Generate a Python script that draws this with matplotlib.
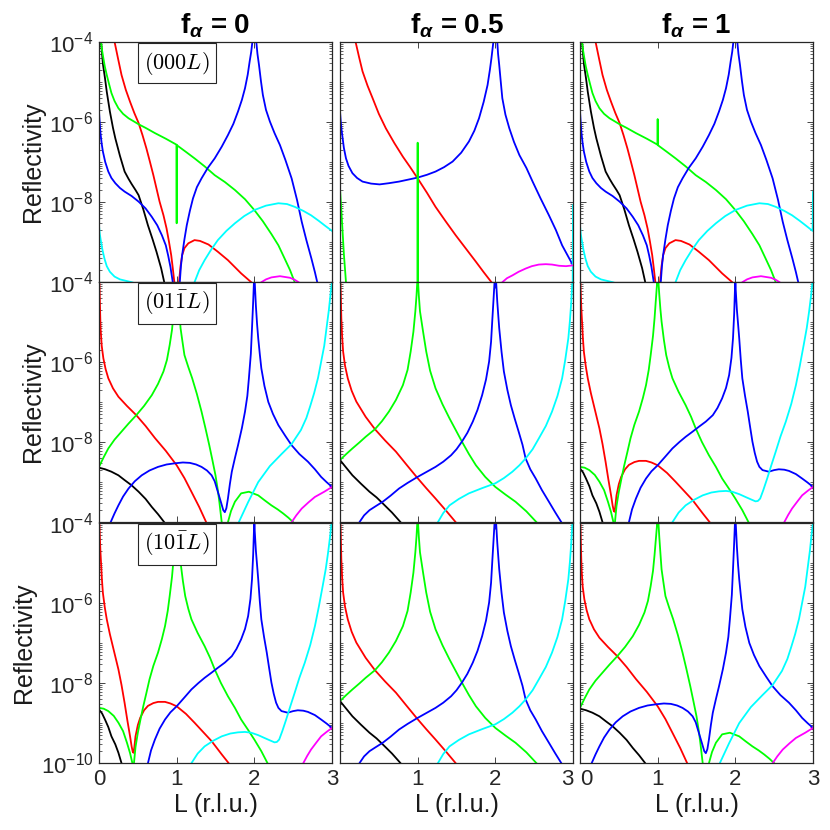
import numpy as np
import matplotlib
matplotlib.use('Agg')
import matplotlib.pyplot as plt
from matplotlib.ticker import FixedLocator, LogLocator, NullFormatter, FuncFormatter

plt.rcParams['font.family'] = ['Liberation Sans', 'DejaVu Sans']
plt.rcParams['mathtext.fontset'] = 'custom'
plt.rcParams['mathtext.rm'] = 'Liberation Sans'
plt.rcParams['mathtext.it'] = 'Liberation Sans:italic'
plt.rcParams['mathtext.bf'] = 'Liberation Sans:bold:italic'

# ── data: (L, log10 R) ──
# panel A : (000L), f_alpha = 0
A_black = [(0.015, -3.5), (0.026, -4.0), (0.05, -4.55), (0.077, -4.91), (0.1, -5.25), (0.14, -5.74),
           (0.18, -6.15), (0.21, -6.41), (0.27, -6.85), (0.33, -7.24), (0.38, -7.42), (0.42, -7.55),
           (0.47, -7.7), (0.51, -7.83), (0.57, -8.18), (0.63, -8.58), (0.69, -8.93), (0.74, -9.24),
           (0.8, -9.65), (0.84, -10.0), (0.87, -10.3)]
A_red1 = [(0.18, -3.8), (0.2, -4.0), (0.245, -4.42), (0.29, -4.83), (0.345, -5.2), (0.4, -5.5),
          (0.455, -5.78), (0.51, -6.03), (0.56, -6.33), (0.61, -6.66), (0.655, -6.99), (0.70, -7.33),
          (0.74, -7.66), (0.78, -7.99), (0.83, -8.33), (0.87, -8.66), (0.9, -8.98), (0.93, -9.33),
          (0.95, -9.65), (0.97, -10.0), (0.985, -10.5)]
A_red2 = [(1.015, -10.5), (1.03, -10.0), (1.05, -9.6), (1.07, -9.33), (1.1, -9.15), (1.15, -9.03),
          (1.23, -8.95), (1.3, -8.97), (1.41, -9.06), (1.53, -9.24), (1.66, -9.45), (1.83, -9.78),
          (1.96, -10.0), (1.99, -10.1)]
A_green = [(0.018, -3.8), (0.026, -4.0), (0.04, -4.22), (0.056, -4.41), (0.075, -4.62), (0.1, -4.83),
           (0.13, -5.06), (0.16, -5.28), (0.2, -5.48), (0.25, -5.66), (0.31, -5.8), (0.38, -5.91),
           (0.45, -5.99), (0.51, -6.06), (0.6, -6.15), (0.72, -6.28), (0.86, -6.42), (0.999, -6.57),
           (1.0, -8.53), (1.001, -6.58), (1.12, -6.75), (1.23, -6.91), (1.36, -7.11), (1.49, -7.33),
           (1.62, -7.5), (1.75, -7.7), (1.88, -7.93), (2.0, -8.2), (2.11, -8.48), (2.22, -8.8),
           (2.31, -9.08), (2.39, -9.41), (2.46, -9.7), (2.52, -10.0), (2.55, -10.2)]
A_blue1 = [(0.0, -5.74), (0.01, -6.05), (0.02, -6.3), (0.035, -6.55), (0.05, -6.74), (0.08, -7.0),
           (0.12, -7.24), (0.16, -7.4), (0.21, -7.53), (0.27, -7.65), (0.33, -7.74), (0.42, -7.85),
           (0.51, -7.99), (0.6, -8.16), (0.68, -8.37), (0.75, -8.58), (0.81, -8.83), (0.86, -9.08),
           (0.89, -9.33), (0.92, -9.62), (0.95, -10.0), (0.98, -10.8)]
A_blue2 = [(1.02, -10.8), (1.04, -10.0), (1.055, -9.6), (1.07, -9.33), (1.1, -8.93), (1.13, -8.58),
           (1.17, -8.22), (1.21, -7.91), (1.26, -7.63), (1.32, -7.41), (1.4, -7.15), (1.49, -6.91),
           (1.58, -6.62), (1.66, -6.33), (1.73, -6.05), (1.79, -5.74), (1.84, -5.45), (1.88, -5.16),
           (1.915, -4.82), (1.94, -4.49), (1.96, -4.25), (1.975, -4.0), (2.0, -3.0), (2.025, -4.0),
           (2.04, -4.3), (2.06, -4.58), (2.085, -4.98), (2.11, -5.33), (2.15, -5.7), (2.2, -5.99),
           (2.26, -6.28), (2.33, -6.58), (2.4, -6.95), (2.48, -7.41), (2.55, -7.95), (2.61, -8.49),
           (2.67, -8.95), (2.735, -9.41), (2.78, -9.75), (2.81, -10.0), (2.84, -10.3)]
A_cyan1 = [(0.0, -8.58), (0.01, -8.8), (0.026, -8.99), (0.045, -9.2), (0.07, -9.41), (0.1, -9.6),
           (0.14, -9.74), (0.2, -9.86), (0.27, -9.93), (0.42, -10.0), (0.5, -10.05)]
A_cyan2 = [(1.2, -10.2), (1.23, -10.0), (1.29, -9.7), (1.36, -9.45), (1.44, -9.2), (1.53, -8.95),
           (1.64, -8.72), (1.75, -8.53), (1.87, -8.35), (2.0, -8.2), (2.15, -8.09), (2.31, -8.03),
           (2.42, -8.05), (2.52, -8.12), (2.63, -8.22), (2.73, -8.33), (2.83, -8.47), (2.91, -8.59), (3.0, -8.72)]
A_magenta = [(2.05, -10.1), (2.09, -10.0), (2.15, -9.93), (2.22, -9.88), (2.33, -9.85), (2.46, -9.89),
             (2.52, -9.94), (2.57, -10.0), (2.6, -10.05)]

# panel C : (000L), f_alpha = 1 (differs from A in the green spike and the cyan edge)
C_green = A_green[:17] + [(0.999, -6.57), (1.0, -5.93), (1.001, -6.58)] + A_green[20:]
C_cyan2 = A_cyan2[:-1] + [(2.995, -8.72), (3.0, -7.75)]

# panel B : (000L), f_alpha = 0.5
B_red = [(0.18, -3.8), (0.2, -4.0), (0.245, -4.38), (0.29, -4.74), (0.355, -5.1), (0.42, -5.41),
         (0.5, -5.8), (0.59, -6.16), (0.7, -6.53), (0.81, -6.87), (0.9, -7.12), (1.0, -7.41),
         (1.12, -7.77), (1.23, -8.12), (1.36, -8.48), (1.49, -8.83), (1.62, -9.16), (1.75, -9.49),
         (1.85, -9.75), (1.95, -10.0), (2.0, -10.1)]
B_blue = [(0.0, -5.74), (0.01, -6.0), (0.02, -6.2), (0.034, -6.41), (0.05, -6.65), (0.077, -6.91),
          (0.11, -7.1), (0.16, -7.28), (0.22, -7.4), (0.29, -7.49), (0.4, -7.54), (0.51, -7.56),
          (0.63, -7.53), (0.76, -7.49), (0.88, -7.44), (1.0, -7.39), (1.12, -7.32), (1.23, -7.24),
          (1.34, -7.13), (1.45, -6.99), (1.56, -6.77), (1.66, -6.49), (1.73, -6.22), (1.79, -5.91),
          (1.85, -5.5), (1.9, -5.08), (1.93, -4.7), (1.95, -4.41), (1.975, -4.0), (2.0, -3.0),
          (2.025, -4.0), (2.035, -4.3), (2.05, -4.58), (2.07, -5.0), (2.09, -5.41), (2.13, -5.82),
          (2.18, -6.16), (2.24, -6.5), (2.31, -6.83), (2.4, -7.15), (2.48, -7.49), (2.58, -7.9),
          (2.69, -8.33), (2.78, -8.7), (2.86, -9.08), (2.93, -9.33), (3.0, -9.58)]
B_green1 = [(0.0, -7.66), (0.026, -8.5), (0.05, -9.3), (0.077, -10.0), (0.09, -10.3)]
B_green2 = [(0.999, -10.5), (1.0, -6.52), (1.001, -10.5)]
B_cyan = [(2.995, -10.5), (3.0, -8.08)]
B_magenta = [(2.05, -10.2), (2.09, -10.0), (2.15, -9.9), (2.22, -9.83), (2.3, -9.74), (2.39, -9.66),
             (2.47, -9.6), (2.56, -9.56), (2.65, -9.55), (2.73, -9.56), (2.82, -9.59), (2.91, -9.6), (3.0, -9.58)]

# panel D : (01-1L) f=0, same shape as (10-1L) f=1
D_black = [(0.0, -8.64), (0.08, -8.68), (0.16, -8.74), (0.25, -8.83), (0.33, -8.95), (0.42, -9.08),
           (0.51, -9.24), (0.6, -9.42), (0.68, -9.62), (0.76, -9.8), (0.84, -10.0), (0.88, -10.1)]
D_red = [(0.0, -3.5), (0.005, -4.0), (0.01, -4.4), (0.015, -4.8), (0.02, -5.16), (0.035, -5.6),
         (0.056, -5.91), (0.085, -6.18), (0.12, -6.41), (0.18, -6.66), (0.25, -6.87), (0.36, -7.1),
         (0.48, -7.33), (0.6, -7.6), (0.72, -7.9), (0.86, -8.22), (1.0, -8.58), (1.1, -8.9),
         (1.19, -9.24), (1.29, -9.62), (1.38, -10.0), (1.42, -10.2)]
D_green1 = [(0.0, -8.62), (0.06, -8.38), (0.12, -8.16), (0.2, -7.94), (0.29, -7.74), (0.38, -7.54),
            (0.48, -7.33), (0.58, -7.1), (0.68, -6.83), (0.76, -6.55), (0.83, -6.24), (0.875, -5.95),
            (0.91, -5.58), (0.94, -5.2), (0.96, -4.8), (0.975, -4.45), (0.99, -4.1), (1.0, -3.3),
            (1.01, -4.0), (1.02, -4.33), (1.035, -4.75), (1.05, -5.16), (1.075, -5.5), (1.1, -5.83),
            (1.15, -6.13), (1.2, -6.41), (1.26, -6.8), (1.32, -7.24), (1.37, -7.65), (1.42, -8.08),
            (1.46, -8.45), (1.5, -8.83), (1.53, -9.2), (1.55, -9.5), (1.58, -10.0), (1.6, -10.5)]
D_green2 = [(1.64, -10.3), (1.66, -10.0), (1.7, -9.72), (1.75, -9.49), (1.83, -9.28), (1.93, -9.24),
            (2.05, -9.33), (2.13, -9.45), (2.22, -9.58), (2.3, -9.68), (2.37, -9.78), (2.44, -9.89),
            (2.5, -10.0), (2.53, -10.05)]
D_blue = [(0.12, -10.3), (0.15, -10.0), (0.2, -9.78), (0.25, -9.58), (0.31, -9.36), (0.38, -9.16),
          (0.46, -8.98), (0.55, -8.83), (0.65, -8.71), (0.76, -8.62), (0.87, -8.56), (0.98, -8.53),
          (1.08, -8.51), (1.17, -8.52), (1.25, -8.56), (1.32, -8.62), (1.39, -8.71), (1.45, -8.83),
          (1.49, -8.98), (1.53, -9.24), (1.57, -9.5), (1.6, -9.7), (1.62, -9.75), (1.64, -9.65),
          (1.66, -9.41), (1.685, -9.05), (1.71, -8.74), (1.75, -8.4), (1.79, -8.08), (1.84, -7.65),
          (1.88, -7.24), (1.91, -6.85), (1.93, -6.41), (1.955, -5.8), (1.97, -5.16), (1.985, -4.5),
          (1.995, -4.0), (2.0, -3.0), (2.005, -4.0), (2.02, -4.6), (2.035, -5.05), (2.05, -5.41),
          (2.07, -5.8), (2.09, -6.16), (2.13, -6.6), (2.18, -7.0), (2.24, -7.3), (2.31, -7.58),
          (2.4, -7.85), (2.48, -8.08), (2.58, -8.3), (2.69, -8.49), (2.78, -8.68), (2.86, -8.87),
          (2.93, -9.0), (3.0, -9.12)]
D_cyan = [(1.78, -10.2), (1.8, -10.0), (1.86, -9.75), (1.92, -9.5), (2.05, -9.0), (2.2, -8.6),
          (2.35, -8.3), (2.48, -8.05), (2.6, -7.7), (2.67, -7.4), (2.72, -7.1), (2.77, -6.78),
          (2.82, -6.4), (2.86, -6.0), (2.9, -5.6), (2.93, -5.15), (2.96, -4.7), (2.98, -4.33), (3.0, -4.0)]
D_magenta = [(2.45, -10.2), (2.48, -10.0), (2.54, -9.83), (2.61, -9.66), (2.7, -9.5), (2.78, -9.37),
             (2.9, -9.24), (3.0, -9.12)]

# panel E : f=0.5, same shape for (01-1L) and (10-1L)
E_black = [(0.0, -8.45), (0.08, -8.64), (0.16, -8.83), (0.27, -9.04), (0.38, -9.24), (0.47, -9.38),
           (0.55, -9.53), (0.67, -9.76), (0.78, -10.0), (0.82, -10.1)]
E_red = [(0.0, -3.5), (0.005, -4.0), (0.01, -4.3), (0.017, -4.91), (0.027, -5.35), (0.04, -5.74),
         (0.065, -6.1), (0.1, -6.41), (0.15, -6.72), (0.21, -6.99), (0.33, -7.37), (0.45, -7.68),
         (0.58, -7.96), (0.72, -8.24), (0.85, -8.55), (0.99, -8.88), (1.11, -9.15), (1.23, -9.41),
         (1.36, -9.7), (1.49, -10.0), (1.52, -10.1)]
E_green = [(0.0, -8.45), (0.08, -8.3), (0.16, -8.16), (0.25, -8.01), (0.33, -7.87), (0.45, -7.68),
           (0.54, -7.48), (0.63, -7.24), (0.72, -6.95), (0.81, -6.58), (0.87, -6.2), (0.91, -5.74),
           (0.945, -5.25), (0.97, -4.74), (0.985, -4.35), (0.995, -4.0), (1.0, -3.3), (1.005, -4.0),
           (1.015, -4.35), (1.03, -4.74), (1.07, -5.25), (1.11, -5.74), (1.16, -6.22), (1.23, -6.66),
           (1.32, -7.06), (1.41, -7.41), (1.49, -7.7), (1.57, -7.99), (1.66, -8.3), (1.75, -8.58),
           (1.87, -8.87), (2.0, -9.12), (2.13, -9.31), (2.26, -9.49), (2.4, -9.73), (2.53, -10.0), (2.56, -10.05)]
E_blue = [(0.22, -10.2), (0.25, -10.0), (0.31, -9.83), (0.38, -9.7), (0.46, -9.6), (0.55, -9.49),
          (0.65, -9.34), (0.76, -9.16), (0.87, -9.02), (0.99, -8.88), (1.11, -8.75), (1.23, -8.62),
          (1.33, -8.49), (1.43, -8.33), (1.5, -8.18), (1.57, -7.99), (1.64, -7.77), (1.71, -7.49),
          (1.77, -7.2), (1.83, -6.83), (1.88, -6.44), (1.92, -5.99), (1.945, -5.5), (1.96, -4.99),
          (1.975, -4.5), (1.99, -4.0), (2.0, -3.0), (2.01, -4.0), (2.025, -4.5), (2.04, -4.9),
          (2.05, -5.16), (2.08, -5.75), (2.11, -6.24), (2.155, -6.7), (2.2, -7.08), (2.25, -7.42),
          (2.3, -7.74), (2.35, -8.07), (2.39, -8.41), (2.45, -8.68), (2.52, -8.91), (2.6, -9.2),
          (2.69, -9.49), (2.77, -9.75), (2.85, -10.0), (2.88, -10.1)]
E_cyan = [(1.23, -10.1), (1.26, -10.0), (1.33, -9.77), (1.41, -9.58), (1.53, -9.42), (1.66, -9.28),
          (1.83, -9.15), (2.0, -9.03), (2.11, -8.9), (2.22, -8.74), (2.31, -8.58), (2.39, -8.41),
          (2.48, -8.18), (2.56, -7.91), (2.65, -7.6), (2.73, -7.24), (2.8, -6.85), (2.86, -6.41),
          (2.9, -5.95), (2.94, -5.41), (2.96, -4.98), (2.975, -4.58), (2.99, -4.08), (3.0, -3.8)]

# panel F : (01-1L) f=1, same shape as (10-1L) f=0
F_black = [(0.0, -8.66), (0.04, -8.76), (0.077, -8.91), (0.12, -9.1), (0.16, -9.33), (0.21, -9.53),
           (0.25, -9.74), (0.29, -10.0), (0.31, -10.1)]
F_red = [(0.0, -3.5), (0.005, -4.0), (0.01, -4.3), (0.018, -4.7), (0.026, -4.99), (0.037, -5.4),
         (0.05, -5.75), (0.075, -6.12), (0.1, -6.41), (0.14, -6.78), (0.18, -7.1), (0.215, -7.38),
         (0.25, -7.66), (0.29, -8.05), (0.33, -8.5), (0.365, -8.93), (0.4, -9.33), (0.42, -9.58),
         (0.435, -9.72), (0.445, -9.74), (0.455, -9.6), (0.47, -9.33), (0.5, -9.05), (0.53, -8.87),
         (0.58, -8.68), (0.63, -8.57), (0.7, -8.5), (0.76, -8.47), (0.85, -8.47), (0.92, -8.51),
         (1.0, -8.58), (1.12, -8.77), (1.23, -8.99), (1.34, -9.22), (1.45, -9.45), (1.58, -9.78),
         (1.67, -10.0), (1.7, -10.1)]
F_green1 = [(0.0, -8.62), (0.06, -8.64), (0.12, -8.7), (0.19, -8.82), (0.25, -8.99), (0.31, -9.2),
            (0.36, -9.49), (0.4, -9.75), (0.43, -10.0), (0.44, -10.3)]
F_green2 = [(0.44, -10.3), (0.45, -10.0), (0.47, -9.6), (0.5, -9.24), (0.535, -8.9), (0.57, -8.58),
            (0.61, -8.25), (0.65, -7.91), (0.7, -7.57), (0.76, -7.24), (0.81, -6.9), (0.85, -6.58),
            (0.885, -6.2), (0.91, -5.83), (0.94, -5.35), (0.96, -4.91), (0.975, -4.5), (0.99, -4.1),
            (1.0, -3.3), (1.01, -4.0), (1.02, -4.3), (1.035, -4.68), (1.05, -4.99), (1.08, -5.45),
            (1.11, -5.83), (1.15, -6.15), (1.19, -6.41), (1.27, -6.75), (1.36, -7.08), (1.43, -7.37),
            (1.49, -7.66), (1.57, -8.0), (1.66, -8.33), (1.75, -8.62), (1.83, -8.91), (1.92, -9.17),
            (2.0, -9.41), (2.09, -9.7), (2.17, -10.0), (2.2, -10.1)]
F_blue = [(0.6, -10.2), (0.63, -10.0), (0.67, -9.68), (0.72, -9.41), (0.78, -9.14), (0.85, -8.91),
          (0.92, -8.73), (1.0, -8.58), (1.1, -8.36), (1.19, -8.16), (1.28, -8.0), (1.36, -7.87),
          (1.45, -7.74), (1.53, -7.62), (1.62, -7.49), (1.71, -7.33), (1.77, -7.15), (1.83, -6.91),
          (1.88, -6.65), (1.92, -6.33), (1.95, -5.9), (1.97, -5.41), (1.985, -4.8), (1.995, -4.2),
          (2.0, -3.0), (2.005, -4.2), (2.02, -4.7), (2.035, -5.05), (2.05, -5.41), (2.07, -5.95),
          (2.09, -6.41), (2.125, -6.85), (2.16, -7.24), (2.19, -7.62), (2.22, -7.99), (2.25, -8.27),
          (2.28, -8.49), (2.31, -8.62), (2.35, -8.7), (2.43, -8.74), (2.5, -8.7), (2.56, -8.68),
          (2.63, -8.69), (2.69, -8.72), (2.78, -8.8), (2.86, -8.91), (2.93, -9.01), (3.0, -9.12)]
F_cyan = [(1.16, -10.2), (1.19, -10.0), (1.27, -9.76), (1.36, -9.58), (1.47, -9.44), (1.58, -9.33),
          (1.69, -9.26), (1.79, -9.23), (1.88, -9.22), (1.96, -9.24), (2.05, -9.3), (2.13, -9.37),
          (2.2, -9.43), (2.26, -9.48), (2.29, -9.47), (2.32, -9.41), (2.36, -9.2), (2.41, -8.91),
          (2.46, -8.6), (2.52, -8.24), (2.58, -7.87), (2.65, -7.49), (2.72, -7.05), (2.78, -6.58),
          (2.83, -6.1), (2.88, -5.58), (2.92, -5.15), (2.95, -4.74), (2.975, -4.35), (2.99, -4.08), (3.0, -3.8)]
F_magenta = [(2.6, -10.2), (2.63, -10.0), (2.68, -9.82), (2.73, -9.66), (2.8, -9.48), (2.86, -9.33),
             (2.93, -9.22), (3.0, -9.12)]

TITLES = [r'f$_{\mathbf{\alpha}}$ = 0', r'f$_{\mathbf{\alpha}}$ = 0.5', r'f$_{\mathbf{\alpha}}$ = 1']
ROW_LABELS = [r'$(000L)$', r'$(01\bar{1}L)$', r'$(10\bar{1}L)$']

COL = {'k': '#000000', 'r': '#ff0000', 'g': '#00ff00', 'b': '#0000ff', 'c': '#00ffff', 'm': '#ff00ff'}

SET_A = [('k', A_black), ('r', A_red1), ('r', A_red2), ('g', A_green), ('b', A_blue1), ('b', A_blue2),
         ('c', A_cyan1), ('c', A_cyan2), ('m', A_magenta)]
SET_B = [('r', B_red), ('b', B_blue), ('g', B_green1), ('g', B_green2), ('c', B_cyan), ('m', B_magenta)]
SET_C = [('k', A_black), ('r', A_red1), ('r', A_red2), ('g', C_green), ('b', A_blue1), ('b', A_blue2),
         ('c', A_cyan1), ('c', C_cyan2), ('m', A_magenta)]
SET_D = [('k', D_black), ('r', D_red), ('g', D_green1), ('g', D_green2), ('b', D_blue), ('c', D_cyan),
         ('m', D_magenta)]
SET_E = [('k', E_black), ('r', E_red), ('g', E_green), ('b', E_blue), ('c', E_cyan)]
SET_F = [('k', F_black), ('r', F_red), ('g', F_green1), ('g', F_green2), ('b', F_blue), ('c', F_cyan),
         ('m', F_magenta)]

PANELS = [[SET_A, SET_B, SET_C],
          [SET_D, SET_E, SET_F],
          [SET_F, SET_E, SET_D]]

# ── layout (pixels on 830x830 canvas) ──
W = 830
COL_LEFT = [99, 340, 580]
PANEL_W = 233
ROW_TOP = [41.7, 281.7, 522.7]
PANEL_H = 240.5
FS = 16
EDGE = '#262626'


def style_ax(ax, row, col):
    ax.set_yscale('log')
    ax.set_xlim(0, 3)
    ax.set_ylim(1e-10, 1e-4)
    ax.set_xticks([0, 1, 2, 3])
    ax.yaxis.set_major_locator(FixedLocator([1e-10, 1e-8, 1e-6, 1e-4]))
    ax.yaxis.set_minor_locator(LogLocator(base=10, subs=np.arange(1, 10), numticks=20))
    ax.yaxis.set_minor_formatter(NullFormatter())
    ax.tick_params(direction='in', which='both', top=True, right=True, labelsize=FS, colors=EDGE)
    ax.tick_params(which='major', length=4, width=0.6, pad=4)
    ax.tick_params(which='minor', length=2.2, width=0.5)
    for sp in ax.spines.values():
        sp.set_linewidth(0.9)
        sp.set_color(EDGE)

    if col == 0:
        def fmt(v, pos, row=row):
            e = int(round(np.log10(v)))
            if row < 2 and e == -10:
                return ''
            return r'10$^{%d}$' % e
        ax.yaxis.set_major_formatter(FuncFormatter(fmt))
        ax.set_ylabel('Reflectivity', fontsize=18, labelpad=3, color='#1a1a1a')
    else:
        ax.set_yticklabels([])

    if row == 2:
        if col == 1:
            ax.set_xticklabels(['', '1', '2', '3'])
            ax.xaxis.get_major_ticks()[3].label1.set_horizontalalignment('right')
        else:
            ax.set_xticklabels(['0', '1', '2', '3'])
            if col == 2:
                ax.xaxis.get_major_ticks()[0].label1.set_horizontalalignment('left')
        ax.set_xlabel('L (r.l.u.)', fontsize=18, labelpad=2, color='#1a1a1a')
    else:
        ax.set_xticklabels([])


fig = plt.figure(figsize=(W / 100, W / 100), dpi=100)
fig.patch.set_facecolor('white')

for r in range(3):
    for c in range(3):
        pos = [COL_LEFT[c] / W, 1 - (ROW_TOP[r] + PANEL_H) / W, PANEL_W / W, PANEL_H / W]
        ax = fig.add_axes(pos)
        for color, pts in PANELS[r][c]:
            L, e = zip(*pts)
            ax.plot(L, 10 ** np.array(e), color=COL[color], lw=1.3, solid_joinstyle='round')
        style_ax(ax, r, c)
        if c == 0:
            ax.text(1 / 3, 0.911, ROW_LABELS[r], transform=ax.transAxes, ha='center', va='center',
                    fontsize=16, math_fontfamily='cm', zorder=30,
                    bbox=dict(boxstyle='square,pad=0.28', facecolor='white', edgecolor=EDGE, lw=0.8))
        if r == 0:
            ax.set_title(TITLES[c], fontsize=20, fontweight='bold', pad=6)

fig.savefig('out.png', dpi=100, facecolor='white')
